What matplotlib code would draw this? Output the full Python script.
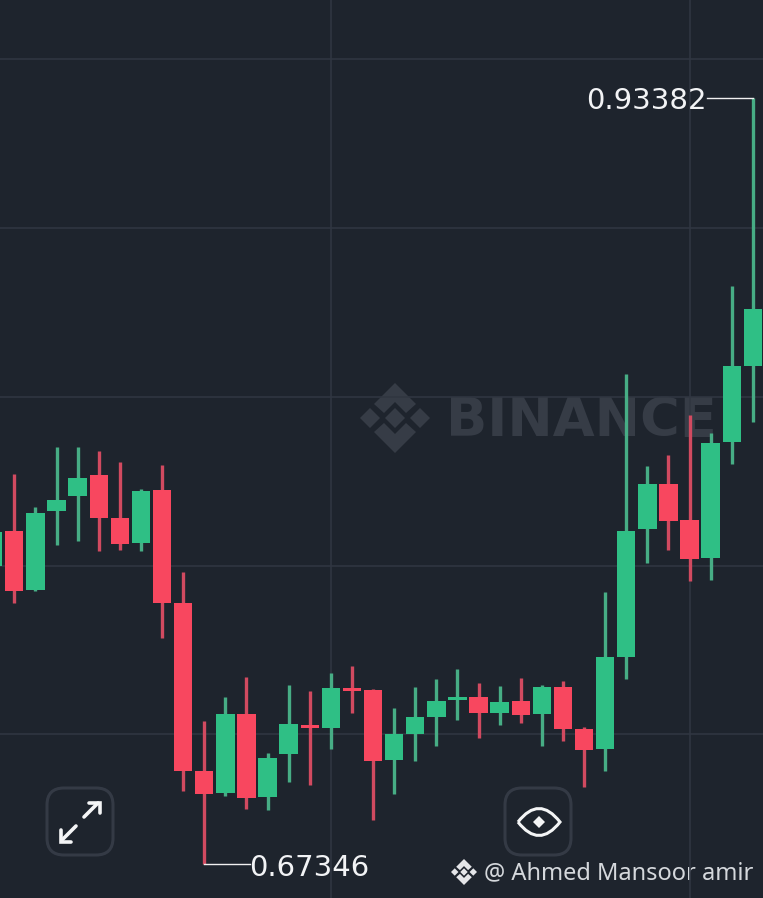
import matplotlib
matplotlib.use('Agg')
import matplotlib.pyplot as plt
from matplotlib.patches import FancyBboxPatch, Polygon, PathPatch
from matplotlib.path import Path

# prices, one entry per candle
opens = [0.77475, 0.78664, 0.76659, 0.79344, 0.79854, 0.80568, 0.79106, 0.78256, 0.80058, 0.76217,
         0.70507, 0.69759, 0.72444, 0.69623, 0.71085, 0.72070, 0.71968, 0.73328, 0.73260, 0.70881,
         0.71764, 0.72342, 0.72920, 0.73022, 0.72478, 0.72886, 0.72444, 0.73362, 0.71934,
         0.71254, 0.74382, 0.78732, 0.80262, 0.79038, 0.77747, 0.81689, 0.84273]
highs = [0.79038, 0.80602, 0.79480, 0.81519, 0.81519, 0.81384, 0.81010, 0.80092, 0.80908, 0.77271,
         0.72206, 0.73022, 0.73702, 0.71119, 0.73430, 0.73226, 0.73838, 0.74076, 0.73294, 0.72648,
         0.73362, 0.73634, 0.73974, 0.73498, 0.73396, 0.73668, 0.73430, 0.73566, 0.72002,
         0.76591, 0.84001, 0.80874, 0.81248, 0.82607, 0.81995, 0.86992, 0.93382]
lows = [0.77169, 0.76217, 0.76625, 0.78188, 0.78324, 0.77985, 0.78018, 0.77985, 0.75027, 0.69827,
        0.67346, 0.69657, 0.69215, 0.69181, 0.70133, 0.70031, 0.71254, 0.72478, 0.68841, 0.69725,
        0.70847, 0.71356, 0.72240, 0.71629, 0.72070, 0.72138, 0.71356, 0.71526, 0.69963,
        0.70507, 0.73634, 0.77577, 0.78018, 0.76965, 0.76999, 0.80942, 0.82369]
closes = [0.78630, 0.76625, 0.79276, 0.79718, 0.80466, 0.79106, 0.78222, 0.80024, 0.76217, 0.70507,
          0.69725, 0.72444, 0.69589, 0.70949, 0.72104, 0.71968, 0.73328, 0.73226, 0.70847, 0.71764,
          0.72342, 0.72886, 0.73022, 0.72478, 0.72852, 0.72410, 0.73362, 0.71934, 0.71220,
          0.74382, 0.78664, 0.80262, 0.79004, 0.77713, 0.81655, 0.84273, 0.86210]

grid_prices = [0.94708, 0.88963, 0.83219, 0.77475, 0.71764]
grid_candles = [16, 33]

high_label = '0.93382'
low_label = '0.67346'
watermark = 'BINANCE'
author = '@ Ahmed Mansoor amir'

BG = '#1E242D'
GRID = '#303641'
GREEN = '#2FBF85'
GREEN_WICK = '#47AD85'
RED = '#F8475F'
RED_WICK = '#D14A60'
WM = '#363C46'
WHITE = '#F4F5F6'

fig = plt.figure(figsize=(7.63, 8.98), dpi=100, facecolor=BG)

# chart axes, price on y and candle number on x
ax = fig.add_axes([0, 0, 1, 1], facecolor='none', zorder=3)
ax.set_xlim(0.322, 36.48)
ax.set_ylim(0.66190, 0.96713)
ax.axis('off')

# second axes in picture pixels for the overlay stuff
ui = fig.add_axes([0, 0, 1, 1], facecolor='none', zorder=2)
ui.set_xlim(0, 763)
ui.set_ylim(898, 0)
ui.axis('off')


def logo(cx, cy, r, color, zorder=2):
    # binance mark: centre and side diamonds plus two chevrons
    s = r / 35.0
    for dx, d in [(0, 10), (-25, 10), (25, 10)]:
        ui.add_patch(Polygon([(cx + dx * s, cy - d * s), (cx + (dx + d) * s, cy),
                              (cx + dx * s, cy + d * s), (cx + (dx - d) * s, cy)],
                             color=color, lw=0, zorder=zorder))
    for sign in (-1, 1):
        pts = [(0, 35), (21, 14), (11, 5), (0, 16), (-11, 5), (-21, 14)]
        ui.add_patch(Polygon([(cx + px * s, cy + sign * py * s) for px, py in pts],
                             color=color, lw=0, zorder=zorder))


# watermark sits below the grid and candles
logo(395, 418, 35, WM, zorder=1)
ui.text(581.5, 421, watermark, fontsize=39, fontweight='bold', family='DejaVu Sans', color=WM,
        ha='center', va='center')

ax.hlines(grid_prices, 0, 40, color=GRID, lw=1.2, zorder=2)
ax.vlines(grid_candles, 0, 1, color=GRID, lw=1.2, zorder=2)

x = list(range(len(opens)))
for i in x:
    up = closes[i] >= opens[i]
    ax.vlines(i, lows[i], highs[i], color=GREEN_WICK if up else RED_WICK, lw=2.4, zorder=3)
    ax.bar(i, abs(closes[i] - opens[i]), bottom=min(opens[i], closes[i]), width=0.87,
           color=GREEN if up else RED, zorder=4)

# extreme price labels with their leader lines
top_i = highs.index(max(highs))
low_i = lows.index(min(lows))
ax.plot([top_i - 2.18, top_i], [max(highs), max(highs)], color='#F0F0F0', lw=1, zorder=5)
ax.plot([low_i, low_i + 2.15], [min(lows), min(lows)], color='#F0F0F0', lw=1, zorder=5)
ax.annotate(high_label, (top_i - 2.18, max(highs)), xytext=(0, -2), textcoords='offset points',
            fontsize=21, family='DejaVu Sans', color='#F2F3F5', ha='right', va='center', zorder=6)
ax.annotate(low_label, (low_i + 2.15, min(lows)), xytext=(0, -3), textcoords='offset points',
            fontsize=21, family='DejaVu Sans', color='#F2F3F5', ha='left', va='center', zorder=6)

# buttons
for bx in (47, 505):
    ui.add_patch(FancyBboxPatch((bx + 16, 804), 34, 35, boxstyle='round,pad=16,rounding_size=17',
                                fc='none', ec='#343A45', lw=2.2, zorder=3))

# expand arrows
arrow = dict(color=WHITE, lw=2.6, solid_capstyle='round', solid_joinstyle='miter')
ui.plot([84, 98], [817, 803], **arrow)
ui.plot([89, 99.5, 99.5], [802.5, 802.5, 813], **arrow)
ui.plot([76, 62], [826, 840], **arrow)
ui.plot([60.5, 60.5, 71], [830, 841.5, 841.5], **arrow)

# eye icon
eye = Path([(518, 822), (539, 795), (560, 822), (539, 849), (518, 822)],
           [Path.MOVETO, Path.CURVE3, Path.CURVE3, Path.CURVE3, Path.CURVE3])
ui.add_patch(PathPatch(eye, fc='none', ec=WHITE, lw=2.2, zorder=4))
ui.add_patch(Polygon([(539, 816), (545, 822), (539, 828), (533, 822)], color=WHITE, lw=0, zorder=4))

# author tag
logo(464, 872, 13, '#E4E5E8', zorder=5)
ui.text(484, 873, author, fontsize=17, family='Noto Sans', color='#D5D8DC', ha='left', va='center')

fig.savefig('out.png', dpi=100, facecolor=BG)
